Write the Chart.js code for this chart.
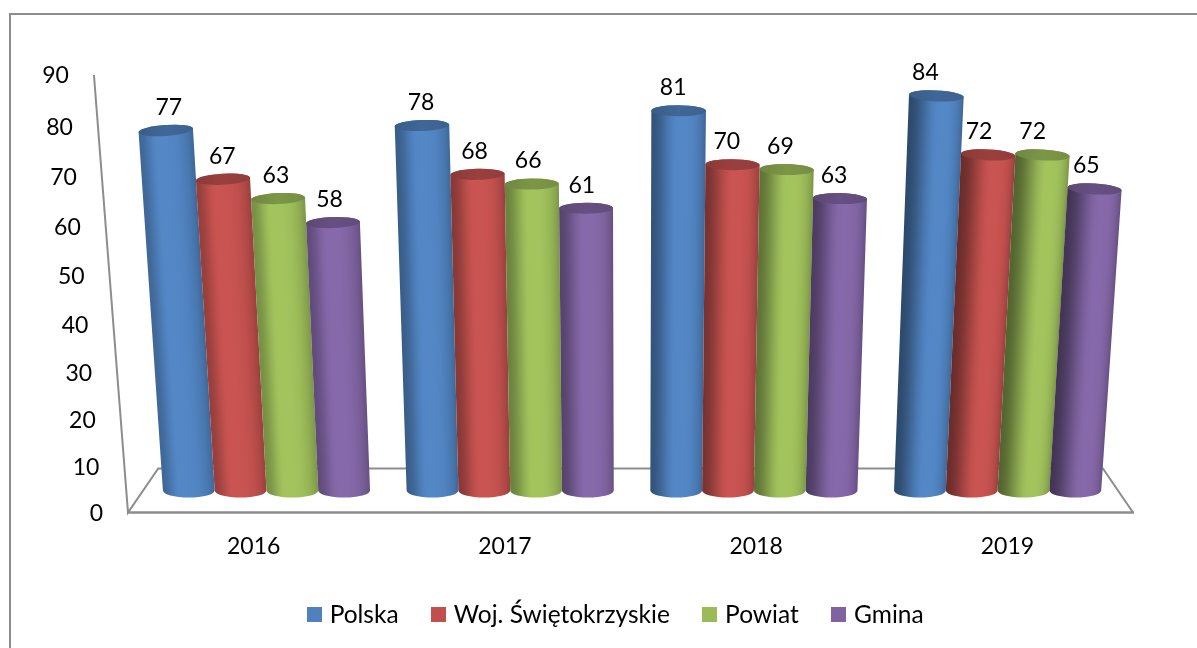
<!DOCTYPE html>
<html><head><meta charset="utf-8">
<style>html,body{margin:0;padding:0;background:#fff}canvas{display:block}</style>
<script src="https://cdn.jsdelivr.net/npm/chart.js@4/dist/chart.umd.js"></script>
</head><body><canvas id="c" width="1197" height="648"></canvas>
<script>
const categories = ['2016','2017','2018','2019'];
const polska = [77,78,81,84];
const woj = [67,68,70,72];
const powiat = [63,66,69,72];
const gmina = [58,61,63,65];
const yTicks = {min:0,max:90,step:10};

const FONT = 'Lato';
const FS = 23;
const GRAY = '#8d8d8d';
const CX = 631.75, VY = -221, DEPTH = 0.97, BACK = 0.94, BAR_SHIFT = 1.5;
const AXIS_K = 0.0001545, BAR_K = 0.00014;

class PerspectiveScale extends Chart.LinearScale {
  static id = 'perspective';
  getPixelForValue(v){
    const t = (v - this.min)/(this.max - this.min);
    return this.bottom - (this.bottom - this.top)*(0.9424*t + 0.0576*t*t);
  }
  _computeLabelItems(area){
    const items = super._computeLabelItems(area);
    for(const it of items){
      const tr = it.options.translation;
      const h = this.bottom - tr[1];
      tr[0] -= (CX - this.right)*AXIS_K*h;
      tr[1] += 1;
    }
    return items;
  }
}
function rgb(hex){return [1,3,5].map(i=>parseInt(hex.substr(i,2),16));}
function mul(c,f){return 'rgb('+c.map(v=>Math.min(255,Math.round(v*f))).join(',')+')';}
function shadeAt(u,side){
  const p = 0.5 + 0.15*side;
  const l = 0.66 - 0.14*side;
  const r = 0.8;
  const hi = 1.05;
  const e = x => x*x*(3-2*x);
  if(u<p) return l + (hi-l)*e(Math.min(1,u/(p*0.95)));
  return hi + (r-hi)*Math.pow((u-p)/(1-p),3);
}
class CylinderElement extends Chart.BarElement {
  static id = 'cylinder';
  draw(ctx){
    const {x,y,base,width} = this.getProps(['x','y','base','width']);
    const h = base - y;
    const dx = (x-CX)*DEPTH + BAR_SHIFT;
    const bx = CX + dx;
    const by = VY + (base-VY)*DEPTH;
    const ty = VY + (y-VY)*DEPTH;
    const s = 1 + BAR_K*h;
    const tx = CX + dx*s;
    const hwB = width*DEPTH/2, hwT = hwB*s;
    const ryB = 7, ryT = 5.5;
    const rot = dx*h*4.2e-7;
    const c = rgb(this.options.backgroundColor);
    const side = dx/450;
    ctx.save();
    ctx.beginPath();
    ctx.moveTo(tx-hwT*Math.cos(rot), ty-hwT*Math.sin(rot));
    ctx.lineTo(bx-hwB, by);
    ctx.ellipse(bx,by,hwB,ryB,0,Math.PI,0,true);
    ctx.lineTo(tx+hwT*Math.cos(rot), ty+hwT*Math.sin(rot));
    ctx.ellipse(tx,ty,hwT,ryT,rot,0,Math.PI,true);
    ctx.closePath();
    ctx.clip();
    const y0 = Math.floor(ty-ryT-6), y1 = Math.ceil(by+ryB+1);
    for(let r=y0;r<y1;r++){
      const t = Math.max(0,Math.min(1,(r+0.5-ty)/(by-ty)));
      const cxr = tx + (bx-tx)*t, hw = hwT + (hwB-hwT)*t;
      const g = ctx.createLinearGradient(cxr-hw,0,cxr+hw,0);
      for(let k=0;k<=16;k++) g.addColorStop(k/16,mul(c,shadeAt(k/16,side)));
      ctx.fillStyle = g;
      ctx.fillRect(Math.floor(cxr-hw-4),r,Math.ceil(hw*2+8),1);
    }
    ctx.restore();
    ctx.save();
    const g = ctx.createLinearGradient(tx-hwT,0,tx+hwT,0);
    g.addColorStop(0,mul(c,0.72));
    g.addColorStop(0.5,mul(c,0.8));
    g.addColorStop(1,mul(c,0.76));
    ctx.fillStyle = g;
    ctx.beginPath();
    ctx.ellipse(tx,ty,hwT,ryT,rot,0,Math.PI*2);
    ctx.fill();
    ctx.restore();
  }
}
Chart.register(PerspectiveScale, CylinderElement);
Chart.defaults.datasets.bar.dataElementType = 'cylinder';
Chart.defaults.font.family = FONT;

const frame = {
  id:'frame',
  beforeDraw(chart){
    const ctx = chart.ctx;
    ctx.save();
    ctx.strokeStyle = GRAY; ctx.lineWidth = 2;
    ctx.beginPath(); ctx.moveTo(10,648); ctx.lineTo(10,14); ctx.lineTo(1197,14); ctx.stroke();
    ctx.restore();
  },
  beforeDatasetsDraw(chart){
    const ctx = chart.ctx, a = chart.chartArea, ys = chart.scales.y;
    const bk = v => CX + (v-CX)*BACK;
    const by = VY + (a.bottom-VY)*BACK;
    const topX = CX + (a.left-CX)*(1 + AXIS_K*(a.bottom-ys.getPixelForValue(yTicks.max)));
    ctx.save();
    ctx.strokeStyle = GRAY; ctx.lineJoin='miter';
    ctx.lineWidth = 2;
    ctx.beginPath();
    ctx.moveTo(topX, a.top); ctx.lineTo(a.left, a.bottom);
    ctx.lineTo(bk(a.left), by); ctx.lineTo(bk(a.right), by); ctx.lineTo(a.right, a.bottom);
    ctx.stroke();
    ctx.lineWidth = 2.5;
    ctx.beginPath(); ctx.moveTo(a.left-1, a.bottom); ctx.lineTo(a.right+1, a.bottom); ctx.stroke();
    ctx.restore();

    // left-to-right painting: each later series sits over the previous one
    const metas = chart.data.datasets.map((d,i)=>chart.getDatasetMeta(i));
    metas.forEach(m=>m.controller.draw());

    ctx.save();
    ctx.font = FS+'px '+FONT; ctx.fillStyle='#000'; ctx.textAlign='center'; ctx.textBaseline='middle';
    chart.data.datasets.forEach((ds,i)=>{
      metas[i].data.forEach((el,k)=>{
        const dx = (el.x-CX)*DEPTH;
        const lx = CX - 3 + dx*1.035;
        const ty = VY + (el.y-VY)*DEPTH;
        ctx.fillText(String(ds.data[k]), lx, ty-23);
      });
    });
    ctx.restore();
    return false;
  },
  afterLayout(chart){
    const l = chart.legend;
    l.left += 51; l.right += 51; l.top -= 11; l.bottom -= 11;
  }
};
function swatch(col){
  const c = document.createElement('canvas'); c.width=15; c.height=15;
  const x = c.getContext('2d'); x.fillStyle=col; x.fillRect(0,0,15,15);
  return c;
}
const colors = ['#4F81BD','#C0504D','#9BBB59','#8064A2'];
const names = ['Polska','Woj. Świętokrzyskie','Powiat','Gmina'];
const series = [polska,woj,powiat,gmina];

new Chart(document.getElementById('c'),{
  type:'bar',
  data:{labels:categories,datasets:series.map((d,i)=>({
    label:names[i],data:d,backgroundColor:colors[i],
    categoryPercentage:0.85,barPercentage:1
  }))},
  plugins:[frame],
  options:{
    responsive:false,animation:false,
    layout:{padding:{left:0,right:64,top:75,bottom:0}},
    plugins:{
      tooltip:{enabled:false},
      legend:{
        position:'bottom',
        labels:{
          color:'#000',font:{family:FONT,size:24.5},padding:37,
          usePointStyle:true,pointStyleWidth:6,boxHeight:15,
          generateLabels(ch){
            return Chart.defaults.plugins.legend.labels.generateLabels(ch)
              .map(it=>({...it,pointStyle:swatch(colors[it.datasetIndex])}));
          }
        }
      }
    },
    scales:{
      x:{type:'category',grid:{display:false,drawTicks:false},border:{display:false},
         ticks:{color:'#000',font:{size:FS},padding:20,maxRotation:0},
         afterFit(s){s.height=64;}},
      y:{type:'perspective',min:yTicks.min,max:yTicks.max,grid:{display:false,drawTicks:false},border:{display:false},
         ticks:{color:'#000',font:{size:FS},padding:25,stepSize:yTicks.step},
         afterFit(s){s.width=128;}}
    }
  }
});
</script></body></html>
